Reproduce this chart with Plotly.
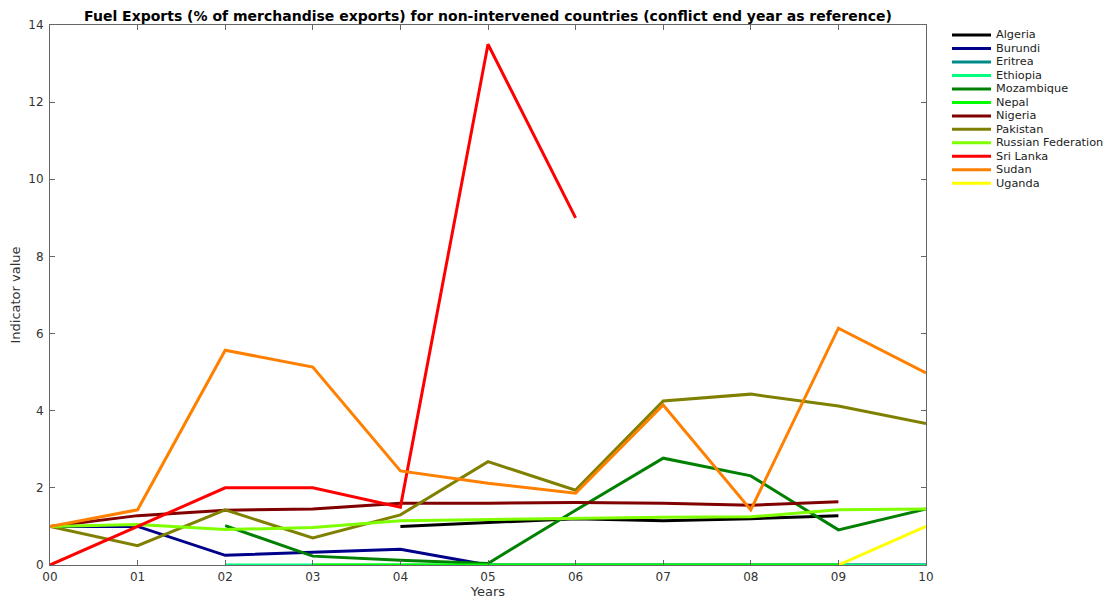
import plotly.graph_objects as go

years = ["00", "01", "02", "03", "04", "05", "06", "07", "08", "09", "10"]

algeria = [None, None, None, None, 1.0, 1.1, 1.2, 1.15, 1.2, 1.28, None]
burundi = [1.0, 1.0, 0.25, 0.33, 0.41, 0.0, 0.0, 0.0, 0.0, 0.0, 0.0]
eritrea = [None] * 11
ethiopia = [None, None, 0.0, 0.0, 0.0, 0.0, 0.0, 0.0, 0.0, 0.0, 0.0]
mozambique = [None, None, 1.02, 0.23, 0.12, 0.04, 1.42, 2.77, 2.31, 0.91, 1.45]
nepal = [None, None, None, 0.0, 0.0, 0.0, 0.0, 0.0, 0.0, 0.0, None]
nigeria = [1.0, 1.28, 1.42, 1.45, 1.6, 1.6, 1.62, 1.6, 1.55, 1.64, None]
pakistan = [1.0, 0.5, 1.43, 0.7, 1.3, 2.68, 1.94, 4.25, 4.43, 4.12, 3.67]
russia = [1.0, 1.05, 0.92, 0.97, 1.15, 1.18, 1.2, 1.24, 1.25, 1.43, 1.45]
sri_lanka = [0.0, 1.0, 2.0, 2.0, 1.5, 13.5, 9.0, None, None, None, None]
sudan = [1.0, 1.43, 5.57, 5.13, 2.44, 2.12, 1.86, 4.15, 1.43, 6.14, 4.98]
uganda = [None, None, None, None, None, None, None, None, None, 0.0, 1.0]

series = [
    ("Algeria", algeria, "#000000"),
    ("Burundi", burundi, "#00008b"),
    ("Eritrea", eritrea, "#008b8b"),
    ("Ethiopia", ethiopia, "#00ff7f"),
    ("Mozambique", mozambique, "#008000"),
    ("Nepal", nepal, "#00ff00"),
    ("Nigeria", nigeria, "#800000"),
    ("Pakistan", pakistan, "#808000"),
    ("Russian Federation", russia, "#7fff00"),
    ("Sri Lanka", sri_lanka, "#ff0000"),
    ("Sudan", sudan, "#ff8000"),
    ("Uganda", uganda, "#ffff00"),
]

W, H = 1115, 601
ML, MR, MT, MB = 50, 189, 25, 36
PW, PH = W - ML - MR, H - MT - MB


def px_x(px):
    return (px - ML) / PW


def px_y(py):
    return (H - MB - py) / PH


fig = go.Figure()
for name, vals, color in series:
    fig.add_trace(go.Scatter(
        x=years, y=vals, name=name, mode="lines",
        line=dict(color=color, width=3),
        connectgaps=False, showlegend=False,
    ))

# compact legend: short line sample + label per series
shapes, annotations = [], []
for i, (name, _, color) in enumerate(series):
    yc = px_y(35 + 13.48 * i)
    shapes.append(dict(
        type="line", xref="paper", yref="paper",
        x0=px_x(952), x1=px_x(991), y0=yc, y1=yc,
        line=dict(color=color, width=3),
    ))
    annotations.append(dict(
        xref="paper", yref="paper", x=px_x(994), y=yc,
        xanchor="left", yanchor="middle", text=name, showarrow=False,
        font=dict(family="DejaVu Sans", size=11.3, color="#222222"),
    ))

axis_common = dict(
    showgrid=False, zeroline=False, showline=True, linecolor="#666666",
    linewidth=1, mirror="ticks", ticks="inside", ticklen=5, automargin=False,
    tickcolor="#666666", tickfont=dict(family="DejaVu Sans", size=12, color="#333333"),
)

fig.update_layout(
    width=W, height=H,
    margin=dict(l=ML, r=MR, t=MT, b=MB),
    paper_bgcolor="white", plot_bgcolor="white",
    title=dict(
        text="<b>Fuel Exports (% of merchandise exports) for non-intervened countries (conflict end year as reference)</b>",
        font=dict(family="DejaVu Sans", size=14, color="#000000"),
        x=0.5, xref="paper", xanchor="center", y=1, yref="paper", yanchor="bottom",
        pad=dict(b=4),
    ),
    xaxis=dict(
        type="category", range=[0, 10], ticklabelstandoff=1,
        title=dict(text="Years", font=dict(family="DejaVu Sans", size=13, color="#333333"), standoff=3),
        **axis_common,
    ),
    yaxis=dict(
        range=[0, 14], dtick=2, ticklabelstandoff=3,
        title=dict(text="Indicator value", font=dict(family="DejaVu Sans", size=13, color="#333333"), standoff=4),
        **axis_common,
    ),
    shapes=shapes,
    annotations=annotations,
    showlegend=False,
)

fig.write_html("out.html")
